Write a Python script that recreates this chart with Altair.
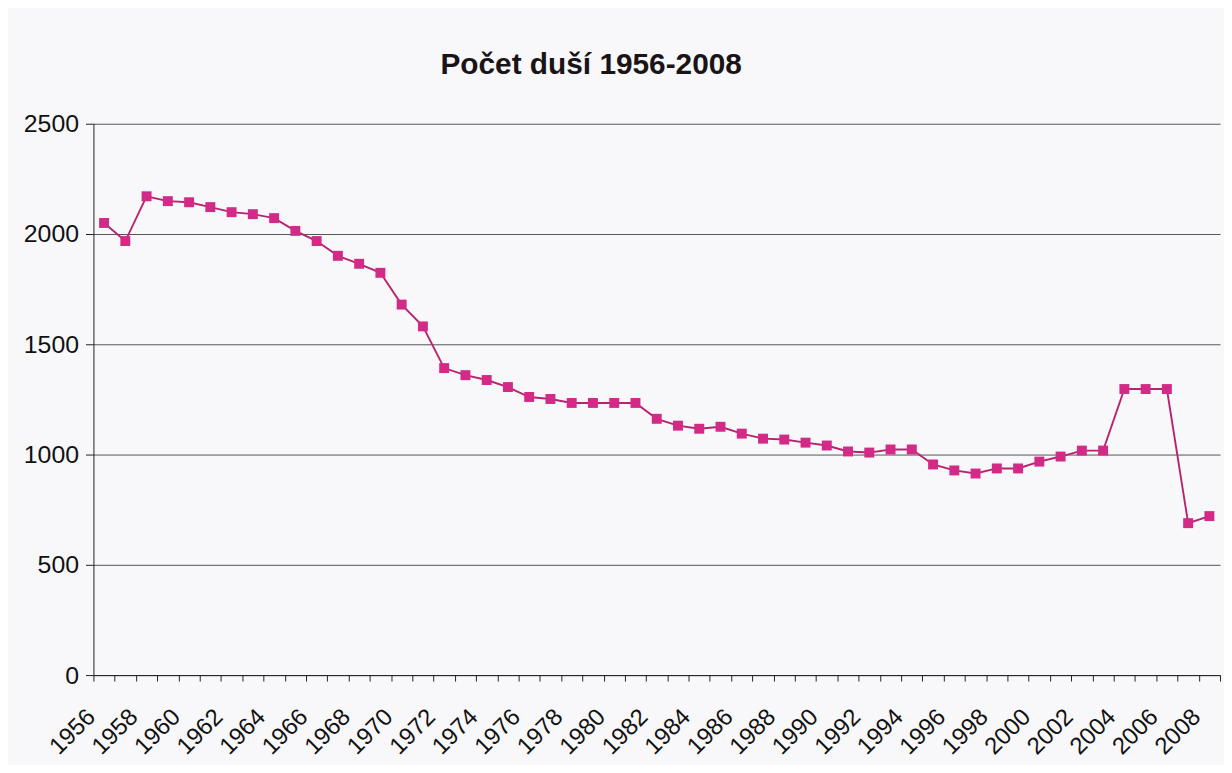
import altair as alt
import pandas as pd

years = list(range(1956, 2009))
values = [2050, 1968, 2171, 2149, 2144, 2122, 2099, 2090, 2072, 2014,
          1968, 1901, 1865, 1824, 1680, 1581, 1392, 1360, 1338, 1306,
          1261, 1252, 1234, 1234, 1234, 1234, 1162, 1131, 1117, 1126,
          1095, 1072, 1068, 1054, 1041, 1014, 1009, 1023, 1023, 955,
          928, 914, 937, 937, 968, 991, 1018, 1018, 1297, 1297,
          1297, 689, 721]
y_ticks = [0, 500, 1000, 1500, 2000, 2500]
title_text = "Počet duší 1956-2008"

df = pd.DataFrame({"year": years, "value": values})

font = "Liberation Sans"
marker_color = "#d42a87"
line_color = "#b8236f"

chart = alt.Chart(df).mark_line(
    color=line_color, strokeWidth=1.9,
    point=alt.OverlayMarkDef(shape="square", size=100, filled=True,
                             color=marker_color, opacity=1)
).encode(
    x=alt.X("year:O", bandPosition=0.5,
            scale=alt.Scale(type="band", paddingInner=0, paddingOuter=0),
            axis=alt.Axis(title=None, tickBand="extent", grid=False,
                          labelExpr="datum.value % 2 == 0 ? datum.label : ''",
                          labelAngle=-45, labelAlign="right", labelBaseline="middle",
                          labelFontSize=24, labelFont=font, labelColor="#111",
                          labelPadding=32, labelOffset=-13, tickSize=6, tickColor="#222",
                          domainColor="#222", labelOverlap=False)),
    y=alt.Y("value:Q", scale=alt.Scale(domain=[0, 2500], nice=False),
            axis=alt.Axis(title=None, values=y_ticks, format="d",
                          labelFontSize=25, labelFont=font, labelColor="#111",
                          labelPadding=7, tickSize=8, tickColor="#222",
                          domainColor="#222", gridColor="#555", gridWidth=1))
).properties(
    width=1134, height=555,
    title=alt.TitleParams(title_text, font=font, fontSize=30, fontWeight="bold",
                          color="#1a1416", anchor="middle", dx=-66, offset=32),
    autosize="none",
    padding={"left": 86, "top": 114, "right": 4, "bottom": 88},
).configure(background="#f8f8fa").configure_view(stroke=None)

chart.save("out.html", embed_options={"renderer": "svg", "actions": False})
